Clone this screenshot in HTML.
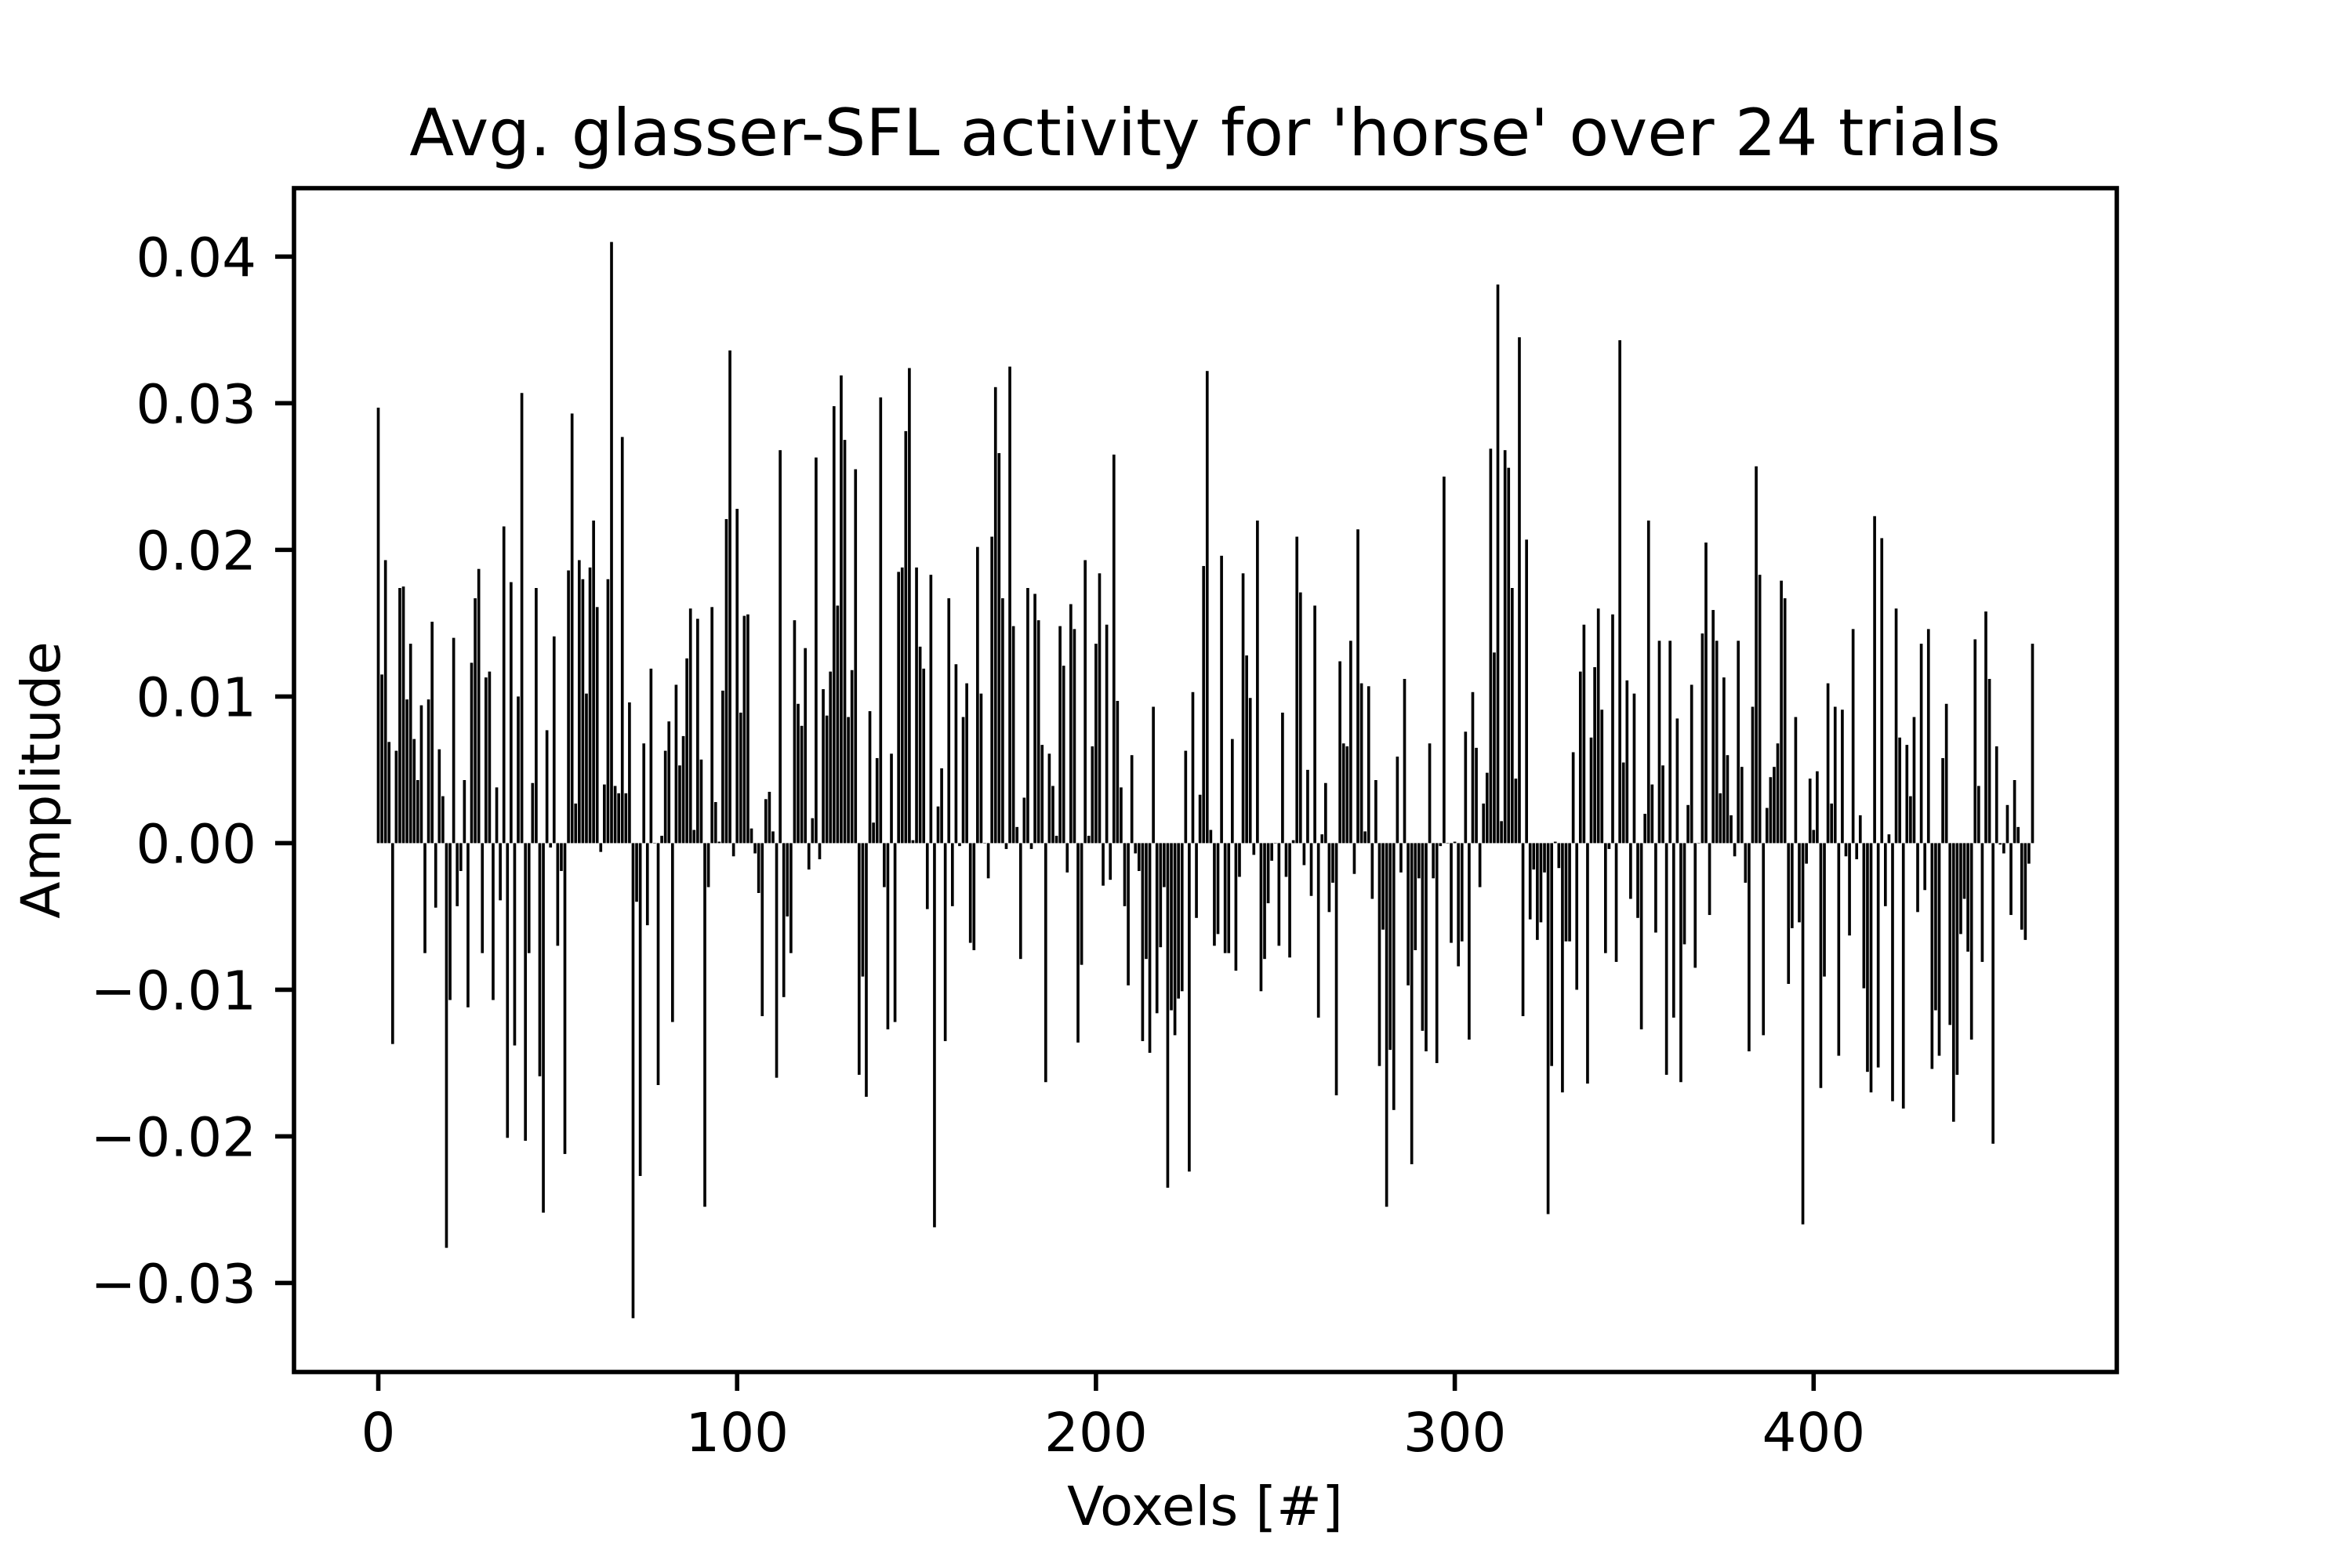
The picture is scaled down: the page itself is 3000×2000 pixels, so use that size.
<!DOCTYPE html>
<html><head><meta charset="utf-8"><style>
html,body{margin:0;padding:0;background:#fff;}
svg{display:block;}
text{font-family:"DejaVu Sans","Liberation Sans",sans-serif;fill:#000;}
</style></head><body>
<svg id="chart" xmlns="http://www.w3.org/2000/svg" width="3000" height="2000" viewBox="0 0 3000 2000">
<rect width="3000" height="2000" fill="#fff"/>
<text x="1537" y="198" font-size="83" text-anchor="middle">Avg. glasser-SFL activity for 'horse' over 24 trials</text>
<text x="1537" y="1945" font-size="69" text-anchor="middle">Voxels [#]</text>
<text x="0" y="0" font-size="69" text-anchor="middle" transform="translate(76,995) rotate(-90)">Amplitude</text>
<g id="bars"></g>
<g id="yticks"></g>
<g id="xticks"></g>
<rect x="375" y="240" width="2325" height="1510" fill="none" stroke="#000" stroke-width="5.6"/>
</svg>
<script>
const values = [
2.97,1.15,1.93,0.69,-1.37,0.63,1.74,1.75,0.98,1.36,0.71,0.43,0.94,-0.75,0.98,1.51,-0.44,0.64,0.32,-2.76,
-1.07,1.40,-0.43,-0.19,0.43,-1.12,1.23,1.67,1.87,-0.75,1.13,1.17,-1.07,0.38,-0.39,2.16,-2.01,1.78,-1.38,1.00,
3.07,-2.03,-0.75,0.41,1.74,-1.59,-2.52,0.77,-0.03,1.41,-0.70,-0.19,-2.12,1.86,2.93,0.27,1.93,1.80,1.02,1.88,
2.20,1.61,-0.06,0.40,1.80,4.10,0.39,0.34,2.77,0.34,0.96,-3.24,-0.40,-2.27,0.68,-0.56,1.19,0.0,-1.65,0.05,
0.63,0.83,-1.22,1.08,0.53,0.73,1.26,1.60,0.09,1.53,0.57,-2.48,-0.30,1.61,0.28,0.01,1.04,2.21,3.36,-0.09,
2.28,0.89,1.55,1.56,0.10,-0.07,-0.34,-1.18,0.30,0.35,0.08,-1.60,2.68,-1.05,-0.50,-0.75,1.52,0.95,0.80,1.33,
-0.18,0.17,2.63,-0.11,1.05,0.87,1.17,2.98,1.62,3.19,2.75,0.86,1.18,2.55,-1.58,-0.91,-1.73,0.90,0.14,0.58,
3.04,-0.30,-1.27,0.61,-1.22,1.85,1.88,2.81,3.24,0.02,1.88,1.34,1.19,-0.45,1.83,-2.62,0.25,0.51,-1.35,1.67,
-0.43,1.22,-0.02,0.86,1.09,-0.68,-0.73,2.02,1.02,0.0,-0.24,2.09,3.11,2.66,1.67,-0.04,3.25,1.48,0.11,-0.79,
0.31,1.74,-0.04,1.70,1.52,0.67,-1.63,0.61,0.39,0.05,1.48,1.21,-0.20,1.63,1.46,-1.36,-0.83,1.93,0.05,0.66,
1.36,1.84,-0.29,1.49,-0.25,2.65,0.97,0.38,-0.43,-0.97,0.60,-0.07,-0.19,-1.35,-0.79,-1.43,0.93,-1.16,-0.71,-0.30,
-2.35,-1.14,-1.31,-1.06,-1.01,0.63,-2.24,1.03,-0.51,0.33,1.89,3.22,0.09,-0.70,-0.62,1.96,-0.75,-0.75,0.71,-0.87,
-0.23,1.84,1.28,0.99,-0.08,2.20,-1.01,-0.79,-0.41,-0.12,0.0,-0.70,0.89,-0.23,-0.78,0.02,2.09,1.71,-0.15,0.50,
-0.36,1.62,-1.19,0.06,0.41,-0.47,-0.27,-1.72,1.24,0.68,0.66,1.38,-0.21,2.14,1.09,0.08,1.07,-0.38,0.43,-1.52,
-0.59,-2.48,-1.41,-1.82,0.59,-0.20,1.12,-0.97,-2.19,-0.73,-0.24,-1.28,-1.42,0.68,-0.24,-1.50,-0.02,2.50,0.0,-0.68,
0.01,-0.84,-0.67,0.76,-1.34,1.03,0.65,-0.30,0.27,0.48,2.69,1.30,3.81,0.15,2.68,2.56,1.74,0.44,3.45,-1.18,
2.07,-0.52,-0.18,-0.66,-0.54,-0.20,-2.53,-1.52,0.01,-0.17,-1.70,-0.67,-0.67,0.62,-1.00,1.17,1.49,-1.64,0.72,1.20,
1.60,0.91,-0.75,-0.04,1.56,-0.81,3.43,0.55,1.11,-0.38,1.02,-0.51,-1.27,0.20,2.20,0.40,-0.61,1.38,0.53,-1.58,
1.38,-1.19,0.85,-1.63,-0.69,0.26,1.08,-0.85,0.0,1.43,2.05,-0.49,1.59,1.38,0.34,1.13,0.60,0.19,-0.09,1.38,
0.52,-0.27,-1.42,0.93,2.57,1.83,-1.31,0.24,0.45,0.52,0.68,1.79,1.67,-0.96,-0.58,0.86,-0.54,-2.60,-0.14,0.44,
0.09,0.49,-1.67,-0.91,1.09,0.27,0.93,-1.45,0.91,-0.09,-0.63,1.46,-0.11,0.19,-0.99,-1.56,-1.70,2.23,-1.53,2.08,
-0.43,0.06,-1.76,1.60,0.72,-1.81,0.67,0.32,0.86,-0.47,1.36,-0.32,1.46,-1.54,-1.14,-1.45,0.58,0.95,-1.24,-1.90,
-1.58,-0.62,-0.38,-0.74,-1.34,1.39,0.39,-0.81,1.58,1.12,-2.05,0.66,-0.01,-0.07,0.26,-0.49,0.43,0.11,-0.59,-0.66,
-0.14,1.36
];
const valueScale = 0.01;
const yTickValues = [-0.03,-0.02,-0.01,0.00,0.01,0.02,0.03,0.04];
const yTickLabels = ["\u22120.03","\u22120.02","\u22120.01","0.00","0.01","0.02","0.03","0.04"];
const xTickValues = [0,100,200,300,400];
const xTickLabels = ["0","100","200","300","400"];

const NS = "http://www.w3.org/2000/svg";
const AX = {l:375, r:2700, t:240, b:1750};
const vals = values.map(v => v * valueScale);
const barW = 0.8;
const n = vals.length;
const xlo0 = -barW/2, xhi0 = (n-1) + barW/2;
const xpad = (xhi0 - xlo0) * 0.05;
const xMin = xlo0 - xpad, xMax = xhi0 + xpad;
let vmin = Math.min(0, ...vals), vmax = Math.max(0, ...vals);
const ypad = (vmax - vmin) * 0.05;
const yMin = vmin - ypad, yMax = vmax + ypad;
function xs(v){ return AX.l + (v - xMin) / (xMax - xMin) * (AX.r - AX.l); }
function ys(v){ return AX.b - (v - yMin) / (yMax - yMin) * (AX.b - AX.t); }
function mk(tag, attrs){ const e = document.createElementNS(NS, tag); for (const k in attrs) e.setAttribute(k, attrs[k]); return e; }

const gb = document.getElementById('bars');
vals.forEach((v, i) => {
  const x0 = xs(i - barW/2), x1 = xs(i + barW/2);
  const y0 = ys(Math.max(0, v)), y1 = ys(Math.min(0, v));
  const r = mk('rect', {x: x0.toFixed(2), y: y0.toFixed(2), width: (x1 - x0).toFixed(2), height: Math.max(0.5, y1 - y0).toFixed(2), fill: '#000'});
  
  
  gb.appendChild(r);
});

const gy = document.getElementById('yticks');
yTickValues.forEach((v, i) => {
  const y = ys(v);
  const t = mk('line', {x1: AX.l - 24, x2: AX.l, y1: y, y2: y, stroke: '#000', 'stroke-width': 5.6});
  
  
  gy.appendChild(t);
  const tx = mk('text', {x: AX.l - 48, y: y + 25, 'font-size': 69, 'text-anchor': 'end'});
  tx.textContent = yTickLabels[i];
  
  
  gy.appendChild(tx);
});

const gx = document.getElementById('xticks');
xTickValues.forEach((v, i) => {
  const x = xs(v);
  const t = mk('line', {x1: x, x2: x, y1: AX.b, y2: AX.b + 24, stroke: '#000', 'stroke-width': 5.6});
  
  
  gx.appendChild(t);
  const tx = mk('text', {x: x, y: AX.b + 101, 'font-size': 69, 'text-anchor': 'middle'});
  tx.textContent = xTickLabels[i];
  
  
  gx.appendChild(tx);
});
</script>
</body></html>
